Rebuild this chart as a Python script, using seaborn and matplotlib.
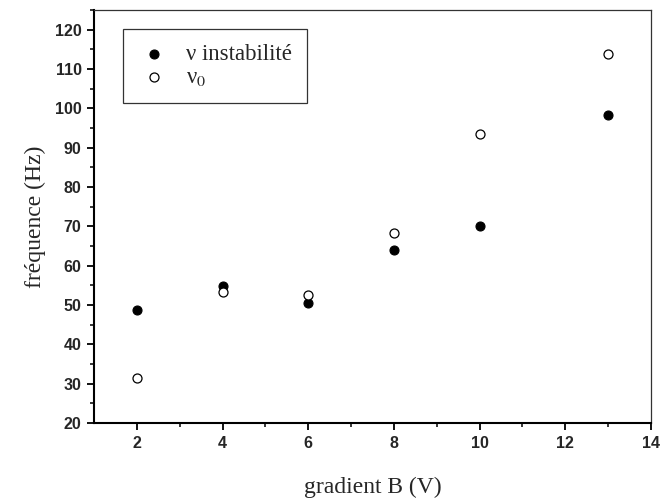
import pandas as pd
import matplotlib.pyplot as plt
import seaborn as sns

# values
gradient = [2, 4, 6, 8, 10, 13]
nu_instab = [48.8, 54.9, 50.4, 64.0, 70.1, 98.4]
nu_zero = [31.4, 53.4, 52.6, 68.4, 93.5, 113.9]

x_ticks = [2, 4, 6, 8, 10, 12, 14]
y_ticks = [20, 30, 40, 50, 60, 70, 80, 90, 100, 110, 120]

sns.set_style('ticks')
plt.rcParams['mathtext.fontset'] = 'stix'
plt.rcParams['font.family'] = ['Liberation Serif', 'DejaVu Serif']

df = pd.DataFrame({
    'gradient': gradient * 2,
    'freq': nu_instab + nu_zero,
    'serie': ['ν instabilité'] * len(gradient) + ['ν$_0$'] * len(gradient),
})

fig = plt.figure(figsize=(6.63, 5.04), dpi=100)
ax = fig.add_axes([0.1418, 0.1607, 0.8401, 0.8194])

d1 = df[df['serie'] == 'ν instabilité']
d2 = df[df['serie'] != 'ν instabilité']
sns.scatterplot(data=d1, x='gradient', y='freq', ax=ax, s=42, color='black',
                edgecolor='black', linewidth=0.8, label='ν instabilité')
sns.scatterplot(data=d2, x='gradient', y='freq', ax=ax, s=42, facecolor='white',
                edgecolor='black', linewidth=0.9, label='ν$_0$')

ax.set_xlim(1, 14)
ax.set_ylim(20, 125)
ax.set_xticks(x_ticks)
ax.set_yticks(y_ticks)
ax.set_xticks([x + 1 for x in x_ticks[:-1]], minor=True)
ax.set_yticks([y + 5 for y in y_ticks], minor=True)

for lab in ax.get_xticklabels() + ax.get_yticklabels():
    lab.set_family(['Liberation Sans', 'DejaVu Sans'])
    lab.set_fontweight('bold')
    lab.set_fontsize(11.5)

ax.tick_params(which='major', direction='out', length=5, width=1.3, color='black', pad=4)
ax.tick_params(which='minor', direction='out', length=3, width=1.1, color='black')
for side in ['left', 'bottom']:
    ax.spines[side].set_linewidth(1.5)
    ax.spines[side].set_color('black')
for side in ['top', 'right']:
    ax.spines[side].set_linewidth(0.9)
    ax.spines[side].set_color('#333333')

ax.set_xlabel('gradient B (V)', fontsize=17, labelpad=19)
ax.set_ylabel('fréquence (Hz)', fontsize=17, labelpad=6)

leg = ax.legend(loc='upper left', bbox_to_anchor=(0.052, 0.955), fontsize=16.5,
                frameon=True, fancybox=False, edgecolor='black', borderpad=0.65,
                handletextpad=0.7, labelspacing=0.12, handlelength=1.4, borderaxespad=0)
leg.get_frame().set_linewidth(0.9)

fig.savefig('out.png', dpi=100)
